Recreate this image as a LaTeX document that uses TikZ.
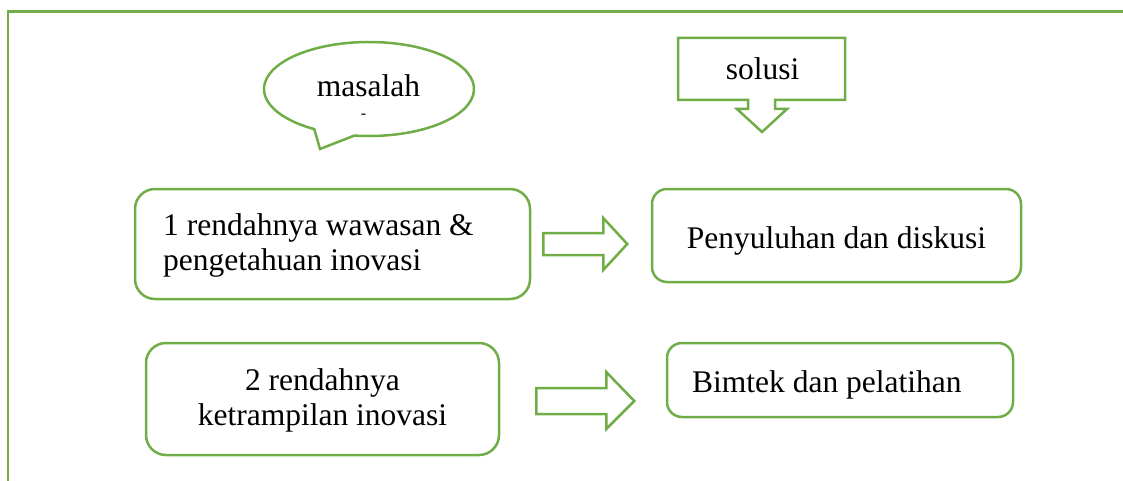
\documentclass[tikz,border=0pt]{standalone}
\usepackage{fontspec}
\setmainfont{Liberation Serif}
\usepackage{tikz}
\usetikzlibrary{positioning,calc}
\definecolor{cGreen}{HTML}{70AD47}
\tikzset{
  box/.style={draw=cGreen, line width=2.5pt, fill=white, inner sep=0pt},
  shp/.style={draw=cGreen, line width=2.5pt, fill=white, line join=miter},
  txt/.style={font=\fontsize{31.5}{35}\selectfont, inner sep=0pt, text=black},
}

\begin{document}
\begin{tikzpicture}[x=1pt, y=1pt]
\useasboundingbox (0,0) rectangle (1123,-481);

% ========== FRAME ==========
\draw[cGreen, line width=2.5pt] (8,-481) -- (8,-11.5) -- (1123,-11.5);

% ========== HEADERS: MASALAH / SOLUSI ==========
\coordinate (callC) at (369,-89);
\draw[shp] ($(callC)+(238.6:105 and 47)$) -- (320,-149)
  -- ($(callC)+(262:105 and 47)$)
  arc[start angle=262, end angle=598.6, x radius=105, y radius=47] -- cycle;
\node[txt, anchor=base] (masalah) at (368.5,-97) {masalah};
\node[txt, anchor=base, font=\fontsize{16}{18}\selectfont] (dash) at (363.5,-119) {-};

\draw[shp] (678,-38) -- (845,-38) -- (845,-100) -- (775,-100) -- (775,-109)
  -- (787,-109) -- (762,-132) -- (737,-109) -- (748,-109) -- (748,-100)
  -- (678,-100) -- cycle;
\node[txt, anchor=base] (solusi) at (762.5,-80) {solusi};

% ========== ROW 1 ==========
\node[box, rounded corners=20pt, minimum width=395pt, minimum height=110pt] (prob1) at (332.5,-244) {};
\node[txt, anchor=west, align=left] (prob1txt) at (163,-245)
  {1 rendahnya wawasan \&\\pengetahuan inovasi};

\node[box, rounded corners=15pt, minimum width=369pt, minimum height=93pt] (sol1) at (836.5,-235.5) {};
\node[txt, anchor=base] (sol1txt) at (836.5,-248) {Penyuluhan dan diskusi};

\draw[shp] ($(prob1.east)+(12,11)$) -- ++(60,0) -- ++(0,15) -- ++(24,-26)
  -- ++(-24,-26) -- ++(0,15) -- ++(-60,0) -- cycle;

% ========== ROW 2 ==========
\node[box, rounded corners=20pt, minimum width=353pt, minimum height=112pt] (prob2) at (322.5,-399) {};
\node[txt, align=center] (prob2txt) at (322.5,-400)
  {2 rendahnya\\ketrampilan inovasi};

\node[box, rounded corners=15pt, minimum width=346pt, minimum height=74pt] (sol2) at (840,-380) {};
\node[txt, anchor=base west] (sol2txt) at (692,-392) {Bimtek dan pelatihan};

\draw[shp] ($(prob2.east)+(36,11)$) -- ++(70,0) -- ++(0,16) -- ++(28,-29)
  -- ++(-28,-28) -- ++(0,15) -- ++(-70,0) -- cycle;

\end{tikzpicture}
\end{document}
